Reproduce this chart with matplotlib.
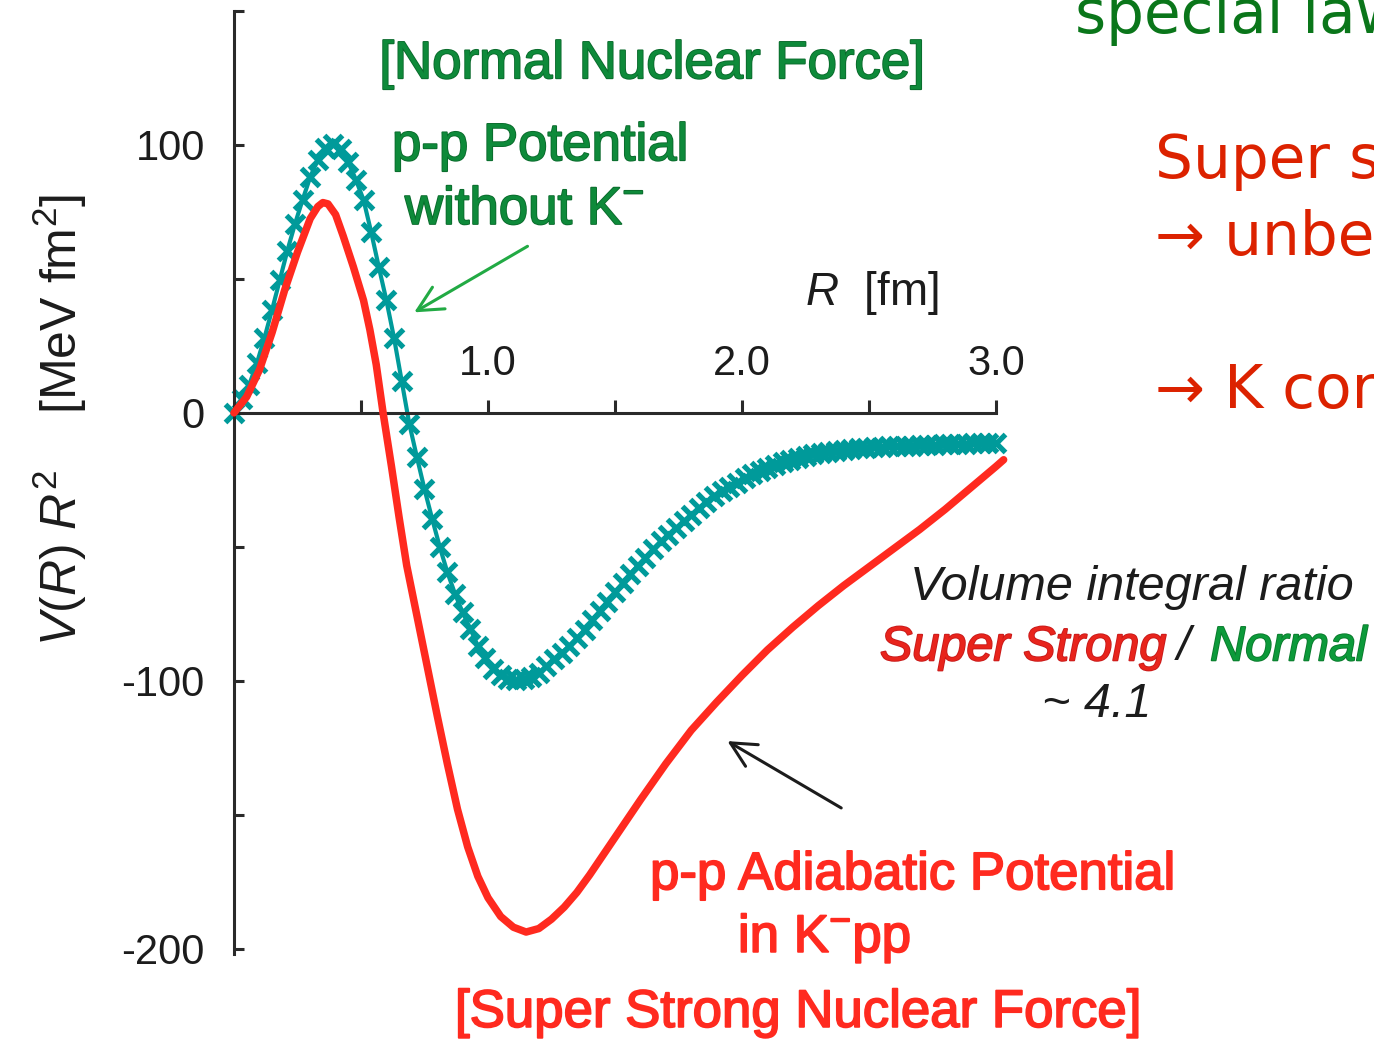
import numpy as np
import matplotlib.pyplot as plt
import matplotlib.patheffects as pe
from matplotlib.ticker import FixedLocator, FixedFormatter

plt.rcParams['font.family'] = ['Liberation Sans', 'DejaVu Sans']
plt.rcParams['mathtext.fontset'] = 'custom'
plt.rcParams['mathtext.rm'] = 'Liberation Sans'
plt.rcParams['mathtext.it'] = 'Liberation Sans:italic'
plt.rcParams['axes.unicode_minus'] = False

# p-p potential without K- (normal nuclear force): R [fm] vs V(R) R^2 [MeV fm^2]
r_normal = np.linspace(0.0, 3.0, 101)
v_normal = [0, 5, 10.5, 18.5, 28, 38.5, 49.5, 60.5, 70.5, 79.5,
            88, 94.5, 99, 100.5, 98.5, 93.5, 87, 79.5, 67.5, 54.5,
            42, 28, 12, -4, -16.5, -28.5, -39.5, -50, -59.5, -67.5,
            -74.5, -80.5, -87, -91.5, -95.5, -98, -99.3, -99.8, -99.5, -98.5,
            -97, -94.5, -92, -89.5, -87, -84, -81, -77.5, -74, -70.5,
            -67, -63.5, -60, -57, -54, -51, -48, -45.5, -43, -40.5,
            -38, -35.5, -33.3, -31.2, -29.3, -27.5, -26, -24.5, -23, -21.6,
            -20.4, -19.3, -18.3, -17.5, -16.8, -16.1, -15.5, -15, -14.6, -14.2,
            -13.8, -13.5, -13.2, -13, -12.8, -12.6, -12.5, -12.4, -12.3, -12.2,
            -12.1, -12, -11.9, -11.8, -11.7, -11.6, -11.5, -11.4, -11.3, -11.2,
            -11.1]

# p-p adiabatic potential in K-pp (super strong nuclear force)
r_kpp = [0, 0.05, 0.10, 0.15, 0.20, 0.25, 0.30, 0.33, 0.35, 0.37,
         0.40, 0.43, 0.47, 0.51, 0.535, 0.56, 0.587, 0.62, 0.65, 0.68,
         0.71, 0.74, 0.77, 0.80, 0.84, 0.88, 0.92, 0.96, 1.00, 1.05,
         1.10, 1.15, 1.20, 1.25, 1.30, 1.35, 1.40, 1.45, 1.50, 1.55,
         1.60, 1.70, 1.80, 1.90, 2.00, 2.10, 2.20, 2.30, 2.40, 2.50,
         2.60, 2.70, 2.80, 2.90, 3.00, 3.03]
v_kpp = [0, 6, 16, 30, 46, 60, 72.5, 77, 78.5, 78,
         74, 66, 54.5, 42, 31, 18, 0, -20, -39, -57,
         -71, -85, -99, -113, -131, -148, -162, -173, -181, -188,
         -192, -193.8, -192.5, -189, -184.5, -179, -172.5, -165.5, -158.5, -151.5,
         -144.5, -131, -118.5, -108, -98, -88.5, -80, -72, -64.5, -57.5,
         -50.5, -43.5, -36, -28, -20, -17.5]

x_major = [1.0, 2.0, 3.0]
x_labels = ['1.0', '2.0', '3.0']
x_minor = [0.5, 1.5, 2.5]
y_major = [-200, -100, 0, 100]
y_labels = ['-200', '-100', '0', '100']
y_minor = [-150, -50, 50, 150]

teal = '#009a9a'
red = '#ff2a1f'
green = '#0e8a3a'
dark = '#1c1c1c'

fig = plt.figure(figsize=(13.74, 10.39), dpi=100)
ax = fig.add_axes([0.1703, 0.0818, 0.5546, 0.9076])

ax.plot(r_normal, v_normal, color=teal, lw=3.0, marker='x', ms=12.5,
        mew=3.8, zorder=2, clip_on=False)
ax.plot(r_kpp, v_kpp, color=red, lw=5.4, zorder=3, clip_on=False,
        solid_capstyle='round', solid_joinstyle='round')

ax.set_xlim(0, 3.0)
ax.set_ylim(-202, 150)

# x axis drawn through V = 0, ticks and labels above it
ax.spines['bottom'].set_visible(False)
ax.spines['right'].set_visible(False)
ax.spines['top'].set_position(('data', 0))
for s in ('top', 'left'):
    ax.spines[s].set_linewidth(2.2)
    ax.spines[s].set_color('#2a2a2a')
ax.xaxis.set_ticks_position('top')
ax.xaxis.set_major_locator(FixedLocator(x_major))
ax.xaxis.set_major_formatter(FixedFormatter(x_labels))
ax.xaxis.set_minor_locator(FixedLocator(x_minor))
ax.tick_params(axis='x', which='both', direction='out', length=9.5,
               width=2.2, color='#2a2a2a', pad=11, labelsize=30,
               labelcolor=dark)

ax.yaxis.set_major_locator(FixedLocator(y_major))
ax.yaxis.set_major_formatter(FixedFormatter(y_labels))
ax.yaxis.set_minor_locator(FixedLocator(y_minor))
ax.tick_params(axis='y', which='both', direction='in', length=7.5,
               width=2.2, color='#2a2a2a', pad=21, labelsize=30,
               labelcolor=dark)

fig.text(60 / 1374, 1 - 420 / 1039, r'$V(R)\ R^{2}$    [MeV fm$^{2}$]',
         rotation=90, ha='center', va='center', fontsize=36, color=dark)


def heavy(color):
    # slightly thicker strokes for the callout texts
    return [pe.withStroke(linewidth=1.3, foreground=color)]


# annotations
ax.text(1.646, 124.9, '[Normal Nuclear Force]', ha='center',
        va='baseline', fontsize=38, color=green, clip_on=False,
        path_effects=heavy('#0a6a2c'))
ax.text(0.622, 94.3, 'p-p Potential', ha='left', va='baseline',
        fontsize=38, color=green, clip_on=False,
        path_effects=heavy('#0a6a2c'))
ax.text(0.673, 70.4, r'without K$^{-}$', ha='left', va='baseline',
        fontsize=38, color=green, clip_on=False,
        path_effects=heavy('#0a6a2c'))
ax.annotate('', xy=(0.70, 37), xytext=(1.165, 62.7),
            arrowprops=dict(arrowstyle='->,head_length=0.9,head_width=0.45',
                            color='#22aa44', lw=2.2, mutation_scale=20))
ax.text(2.248, 40.3, r'$R$  [fm]', ha='left', va='baseline', fontsize=33,
        color=dark, clip_on=False)

ax.text(3.535, -70, 'Volume integral ratio', ha='center', va='baseline',
        fontsize=35, style='italic', color=dark, clip_on=False)
ax.text(2.543, -92.4, 'Super Strong', ha='left', va='baseline',
        fontsize=35, style='italic', color='#e8241c', clip_on=False,
        path_effects=heavy('#c81a1a'))
ax.text(3.71, -92.4, '/', ha='left', va='baseline', fontsize=35,
        style='italic', color=dark, clip_on=False)
ax.text(3.843, -92.4, 'Normal', ha='left', va='baseline', fontsize=35,
        style='italic', color='#0c9a3a', clip_on=False,
        path_effects=heavy('#0a7a2c'))
ax.text(3.398, -113.7, '~ 4.1', ha='center', va='baseline', fontsize=35,
        style='italic', color=dark, clip_on=False)

ax.annotate('', xy=(1.933, -122), xytext=(2.40, -148),
            arrowprops=dict(arrowstyle='->,head_length=0.9,head_width=0.45',
                            color=dark, lw=2.2, mutation_scale=20))
ax.text(1.638, -177.8, 'p-p Adiabatic Potential', ha='left',
        va='baseline', fontsize=38, color=red, clip_on=False,
        path_effects=heavy(red))
ax.text(1.984, -201.3, r'in K$^{-}$pp', ha='left', va='baseline',
        fontsize=38, color=red, clip_on=False, path_effects=heavy(red))
ax.text(0.870, -229.2, '[Super Strong Nuclear Force]', ha='left',
        va='baseline', fontsize=38, color=red, clip_on=False,
        path_effects=heavy(red))

# side notes running off the right edge
side = dict(ha='left', va='baseline', fontsize=43, family='DejaVu Sans')
fig.text(1075 / 1374, 1 - 33 / 1039, 'special law', color='#0a761a', **side)
fig.text(1155 / 1374, 1 - 178 / 1039, 'Super s', color='#dc2200', **side)
fig.text(1155 / 1374, 1 - 255 / 1039, '→ unbe', color='#dc2200', **side)
fig.text(1155 / 1374, 1 - 408 / 1039, '→ K cor', color='#dc2200', **side)

fig.savefig('out.png', dpi=100)
